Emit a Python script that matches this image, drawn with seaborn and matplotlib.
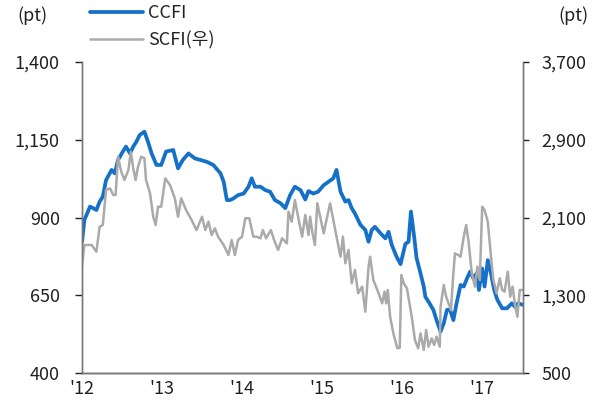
import pandas as pd
import matplotlib
matplotlib.use("Agg")
import matplotlib.pyplot as plt
import seaborn as sns

# CCFI (left axis), decimal year vs index
ccfi_year = [2012.00, 2012.03, 2012.10, 2012.14, 2012.18, 2012.22, 2012.26, 2012.30, 2012.37, 2012.41,
             2012.45, 2012.51, 2012.55, 2012.60, 2012.64, 2012.68, 2012.72, 2012.78, 2012.83, 2012.87,
             2012.93, 2012.99, 2013.05, 2013.14, 2013.20, 2013.26, 2013.33, 2013.41, 2013.48, 2013.56,
             2013.64, 2013.73, 2013.77, 2013.81, 2013.85, 2013.89, 2013.95, 2014.02, 2014.08, 2014.12,
             2014.16, 2014.23, 2014.29, 2014.35, 2014.41, 2014.48, 2014.54, 2014.60, 2014.66, 2014.73,
             2014.79, 2014.83, 2014.89, 2014.95, 2015.02, 2015.08, 2015.14, 2015.18, 2015.23, 2015.29,
             2015.33, 2015.37, 2015.41, 2015.48, 2015.54, 2015.58, 2015.62, 2015.66, 2015.73, 2015.79,
             2015.83, 2015.87, 2015.93, 2015.98, 2016.04, 2016.08, 2016.11, 2016.15, 2016.18, 2016.23,
             2016.27, 2016.29, 2016.33, 2016.39, 2016.43, 2016.48, 2016.52, 2016.56, 2016.60, 2016.64,
             2016.68, 2016.73, 2016.77, 2016.81, 2016.85, 2016.89, 2016.93, 2016.96, 2017.00, 2017.03,
             2017.07, 2017.11, 2017.15, 2017.19, 2017.25, 2017.31, 2017.37, 2017.41, 2017.45, 2017.51]
ccfi_val = [821, 892, 935, 930, 924, 951, 967, 1020, 1053, 1042,
            1085, 1112, 1128, 1106, 1128, 1144, 1165, 1176, 1139, 1106,
            1069, 1069, 1112, 1117, 1058, 1085, 1106, 1090, 1085, 1079,
            1069, 1042, 1015, 956, 956, 961, 972, 977, 999, 1026,
            999, 999, 988, 983, 956, 946, 930, 972, 999, 988,
            958, 985, 977, 983, 1004, 1015, 1026, 1053, 983, 951,
            956, 930, 913, 876, 860, 822, 860, 870, 849, 833,
            854, 812, 774, 750, 815, 822, 919, 838, 770, 720,
            678, 645, 629, 603, 570, 533, 560, 603, 603, 570,
            624, 683, 678, 704, 726, 704, 720, 667, 736, 678,
            763, 720, 667, 635, 608, 608, 624, 613, 624, 619]

# SCFI (right axis)
scfi_year = [2012.00, 2012.03, 2012.12, 2012.18, 2012.22, 2012.26, 2012.30, 2012.35, 2012.39, 2012.42,
             2012.45, 2012.49, 2012.53, 2012.58, 2012.61, 2012.64, 2012.67, 2012.70, 2012.74, 2012.78,
             2012.80, 2012.85, 2012.89, 2012.92, 2012.95, 2012.99, 2013.04, 2013.10, 2013.16, 2013.20,
             2013.24, 2013.30, 2013.37, 2013.43, 2013.50, 2013.54, 2013.58, 2013.62, 2013.66, 2013.70,
             2013.77, 2013.83, 2013.87, 2013.91, 2013.95, 2014.00, 2014.04, 2014.09, 2014.14, 2014.18,
             2014.23, 2014.26, 2014.30, 2014.36, 2014.40, 2014.45, 2014.50, 2014.56, 2014.58, 2014.62,
             2014.66, 2014.70, 2014.75, 2014.79, 2014.83, 2014.85, 2014.88, 2014.91, 2014.94, 2014.98,
             2015.02, 2015.05, 2015.10, 2015.14, 2015.18, 2015.23, 2015.26, 2015.29, 2015.33, 2015.37,
             2015.41, 2015.45, 2015.50, 2015.54, 2015.58, 2015.60, 2015.64, 2015.69, 2015.75, 2015.78,
             2015.80, 2015.82, 2015.85, 2015.89, 2015.94, 2015.97, 2015.99, 2016.02, 2016.06, 2016.12,
             2016.16, 2016.20, 2016.23, 2016.27, 2016.30, 2016.33, 2016.37, 2016.40, 2016.43, 2016.47,
             2016.48, 2016.52, 2016.55, 2016.58, 2016.61, 2016.64, 2016.66, 2016.70, 2016.73, 2016.77,
             2016.80, 2016.83, 2016.87, 2016.91, 2016.94, 2016.97, 2017.00, 2017.03, 2017.07, 2017.11,
             2017.14, 2017.18, 2017.22, 2017.25, 2017.28, 2017.32, 2017.35, 2017.38, 2017.41, 2017.44,
             2017.47, 2017.50]
scfi_val = [1600, 1817, 1817, 1748, 2005, 2023, 2383, 2400, 2332, 2332,
            2726, 2572, 2486, 2589, 2777, 2606, 2486, 2623, 2726, 2709,
            2486, 2349, 2108, 2023, 2211, 2211, 2503, 2434, 2297, 2108,
            2297, 2177, 2074, 1971, 2108, 1971, 2057, 1920, 1989, 1903,
            1817, 1714, 1869, 1714, 1869, 1903, 2092, 2092, 1903, 1903,
            1886, 1971, 1886, 1971, 1869, 1766, 1886, 1834, 2160, 2057,
            2280, 2108, 1903, 2126, 1920, 2108, 1937, 1817, 2246, 2092,
            1937, 2057, 2246, 2074, 1903, 1697, 1903, 1629, 1766, 1423,
            1560, 1320, 1388, 1131, 1594, 1697, 1457, 1354, 1217, 1337,
            1217, 1354, 1079, 908, 754, 760, 1508, 1423, 1371, 1079,
            840, 754, 908, 737, 942, 771, 857, 788, 874, 771,
            1182, 1406, 1285, 1217, 1148, 1526, 1731, 1714, 1697, 1903,
            2023, 1851, 1526, 1388, 1594, 1457, 2211, 2177, 2057, 1697,
            1457, 1320, 1474, 1354, 1337, 1543, 1285, 1388, 1200, 1079,
            1354, 1354]

year_ticks = [2012, 2013, 2014, 2015, 2016, 2017]
year_labels = ["'12", "'13", "'14", "'15", "'16", "'17"]
left_ticks = [400, 650, 900, 1150, 1400]
right_ticks = [500, 1300, 2100, 2900, 3700]

ccfi = pd.DataFrame({"year": ccfi_year, "value": ccfi_val})
scfi = pd.DataFrame({"year": scfi_year, "value": scfi_val})

sns.set_style("white")
plt.rcParams['font.family'] = ['Noto Sans CJK KR', 'DejaVu Sans']

fs = 13
txt = "#222222"

fig = plt.figure(figsize=(6, 4.09), dpi=100)
ax = fig.add_axes([82 / 600, 1 - 373 / 409, 441 / 600, 311 / 409])
ax2 = ax.twinx()

sns.lineplot(data=ccfi, x="year", y="value", ax=ax, color="#1570c8", linewidth=2.7, label="CCFI", legend=False)
sns.lineplot(data=scfi, x="year", y="value", ax=ax2, color="#aaaaaa", linewidth=1.8, label="SCFI(우)", legend=False)

ax.set_xlim(2012, 2017.51)
ax.set_ylim(400, 1400)
ax2.set_ylim(500, 3700)
ax.set_xticks(year_ticks)
ax.set_xticklabels(year_labels)
ax.set_yticks(left_ticks)
ax.set_yticklabels([f"{v:,}" for v in left_ticks])
ax2.set_yticks(right_ticks)
ax2.set_yticklabels([f"{v:,}" for v in right_ticks])
for a in (ax, ax2):
    a.set_xlabel("")
    a.set_ylabel("")
    a.grid(False)
    a.spines["top"].set_visible(False)
    for s in ("left", "right", "bottom"):
        a.spines[s].set_color("#777777")
        a.spines[s].set_linewidth(1.0)
ax.spines["bottom"].set_color(txt)
ax.tick_params(axis="x", direction="out", length=5, width=1, color=txt, labelsize=fs, labelcolor=txt, pad=0)
ax.tick_params(axis="y", direction="out", length=5, width=1, color=txt, labelsize=fs, labelcolor=txt, pad=11)
ax2.tick_params(axis="y", direction="out", length=4, width=1, color=txt, labelsize=fs, labelcolor=txt, pad=9)

fig.text(17 / 600, 1 - 16 / 409, "(pt)", fontsize=fs, va="center", ha="left", color=txt)
fig.text(588 / 600, 1 - 16 / 409, "(pt)", fontsize=fs, va="center", ha="right", color=txt)

h1, l1 = ax.get_legend_handles_labels()
h2, l2 = ax2.get_legend_handles_labels()
fig.legend(h1 + h2, l1 + l2, loc="upper left", bbox_to_anchor=(74 / 600, 1.03), frameon=False,
           fontsize=fs, handlelength=2.9, handletextpad=0.3, labelspacing=0.5, labelcolor=txt)

fig.savefig("out.png", dpi=100)
